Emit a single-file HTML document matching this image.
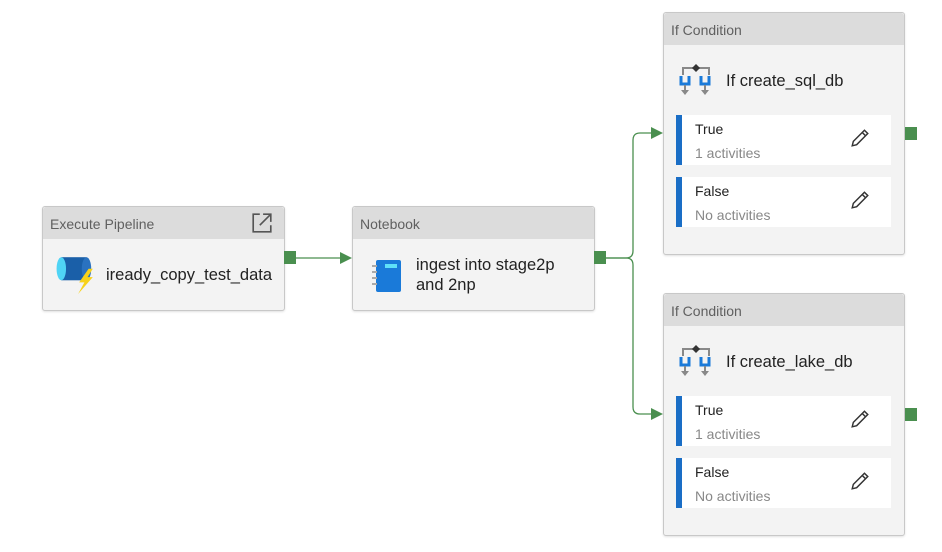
<!DOCTYPE html>
<html><head><meta charset="utf-8"><style>
body{margin:0;width:942px;height:552px;background:#fff;position:relative;overflow:hidden;font-family:"Liberation Sans",sans-serif;}
.box{position:absolute;background:#f3f3f3;border:1px solid #c8c8c8;border-radius:3px;box-sizing:border-box;box-shadow:0 1px 2px rgba(0,0,0,.12);}
.hdr{position:absolute;left:0;top:0;right:0;height:32px;background:#dcdcdc;color:#606060;font-size:14px;line-height:34px;padding-left:7px;border-radius:3px 3px 0 0;}
.t{position:absolute;font-size:16.5px;color:#222;line-height:20px;}
.panel{position:absolute;left:12px;width:215px;height:50px;background:#fff;border-left:6px solid #1a6ec6;box-sizing:border-box;}
.panel .a{position:absolute;left:13px;top:6px;font-size:14px;color:#222;}
.panel .b{position:absolute;left:13px;top:30px;font-size:14px;color:#888;}
.panel svg{position:absolute;left:168px;top:13px;}
.port{position:absolute;width:12px;height:13px;background:#4a8f4f;}
</style></head><body>
<svg width="942" height="552" style="position:absolute;left:0;top:0">
<g stroke="#4a8f4f" stroke-width="1.3" fill="none">
<line x1="296" y1="258" x2="342" y2="258"/>
<path d="M606 258 H626 Q633 258 633 251 V140 Q633 133 640 133 H652"/>
<path d="M606 258 H626 Q633 258 633 265 V407 Q633 414 640 414 H652"/>
</g>
<g fill="#4a8f4f">
<polygon points="352,258 340,252 340,264"/>
<polygon points="663,133 651,127 651,139"/>
<polygon points="663,414 651,408 651,420"/>
</g>
</svg>

<div class="box" style="left:42px;top:206px;width:243px;height:105px;">
<div class="hdr">Execute Pipeline</div>
<svg style="position:absolute;left:208px;top:5px" width="22" height="22" viewBox="0 0 20 20" fill="none" stroke="#555" stroke-width="1.5"><path d="M8 2H2v16h16v-6"/><path d="M11 2h7v7M18 2L8 12"/></svg>
<svg style="position:absolute;left:12px;top:47px" width="42" height="40" viewBox="0 0 40 38"><rect x="6" y="3" width="24" height="22" fill="#1a5fa8"/><ellipse cx="6" cy="14" rx="4.5" ry="11" fill="#4fd4f5"/><ellipse cx="30" cy="14" rx="4.5" ry="11" fill="#2a72c0"/><polygon points="32,14 23,27 28,27 22,38 36,22 31,22 36,14" fill="#f7d21a"/></svg>
<div class="t" style="left:63px;top:58px">iready_copy_test_data</div>
</div>
<div class="port" style="left:284px;top:251px"></div>

<div class="box" style="left:352px;top:206px;width:243px;height:105px;">
<div class="hdr">Notebook</div>
<svg style="position:absolute;left:17px;top:51px" width="34" height="36" viewBox="0 0 32 36"><rect x="5" y="2" width="25" height="32" rx="2" fill="#1a7ad9"/><rect x="14" y="6" width="12" height="4" fill="#5fe0f8"/><g stroke="#aaa" stroke-width="2"><line x1="1" y1="8" x2="6" y2="8"/><line x1="1" y1="14" x2="6" y2="14"/><line x1="1" y1="20" x2="6" y2="20"/><line x1="1" y1="26" x2="6" y2="26"/></g></svg>
<div class="t" style="left:63px;top:48px">ingest into stage2p<br>and 2np</div>
</div>
<div class="port" style="left:594px;top:251px"></div>

<div class="box" style="left:663px;top:12px;width:242px;height:243px;">
<div class="hdr">If Condition</div>
<svg style="position:absolute;left:14px;top:49px" width="36" height="38" viewBox="0 0 36 36"><g fill="none" stroke="#888" stroke-width="2"><path d="M5 12V5h26v7"/></g><polygon points="18,1 22,5 18,9 14,5" fill="#333"/><g fill="none" stroke="#1a7ad9" stroke-width="3"><path d="M3 13v8h8v-8"/><path d="M23 13v8h8v-8"/></g><g fill="#888"><rect x="6" y="22" width="2" height="6"/><rect x="26" y="22" width="2" height="6"/><polygon points="3,27 11,27 7,32"/><polygon points="23,27 31,27 27,32"/></g></svg>
<div class="t" style="left:62px;top:58px">If create_sql_db</div>
<div class="panel" style="top:102px"><div class="a">True</div><div class="b">1 activities</div><svg width="20" height="20" viewBox="0 0 18 18" fill="none" stroke="#333" stroke-width="1.3"><path d="M2 16l1-4L13 2l3 3L6 15z M11 4l3 3"/></svg></div>
<div class="panel" style="top:164px"><div class="a">False</div><div class="b">No activities</div><svg width="20" height="20" viewBox="0 0 18 18" fill="none" stroke="#333" stroke-width="1.3"><path d="M2 16l1-4L13 2l3 3L6 15z M11 4l3 3"/></svg></div>
</div>
<div class="port" style="left:905px;top:127px"></div>

<div class="box" style="left:663px;top:293px;width:242px;height:243px;">
<div class="hdr">If Condition</div>
<svg style="position:absolute;left:14px;top:49px" width="36" height="38" viewBox="0 0 36 36"><g fill="none" stroke="#888" stroke-width="2"><path d="M5 12V5h26v7"/></g><polygon points="18,1 22,5 18,9 14,5" fill="#333"/><g fill="none" stroke="#1a7ad9" stroke-width="3"><path d="M3 13v8h8v-8"/><path d="M23 13v8h8v-8"/></g><g fill="#888"><rect x="6" y="22" width="2" height="6"/><rect x="26" y="22" width="2" height="6"/><polygon points="3,27 11,27 7,32"/><polygon points="23,27 31,27 27,32"/></g></svg>
<div class="t" style="left:62px;top:58px">If create_lake_db</div>
<div class="panel" style="top:102px"><div class="a">True</div><div class="b">1 activities</div><svg width="20" height="20" viewBox="0 0 18 18" fill="none" stroke="#333" stroke-width="1.3"><path d="M2 16l1-4L13 2l3 3L6 15z M11 4l3 3"/></svg></div>
<div class="panel" style="top:164px"><div class="a">False</div><div class="b">No activities</div><svg width="20" height="20" viewBox="0 0 18 18" fill="none" stroke="#333" stroke-width="1.3"><path d="M2 16l1-4L13 2l3 3L6 15z M11 4l3 3"/></svg></div>
</div>
<div class="port" style="left:905px;top:408px"></div>
</body></html>
